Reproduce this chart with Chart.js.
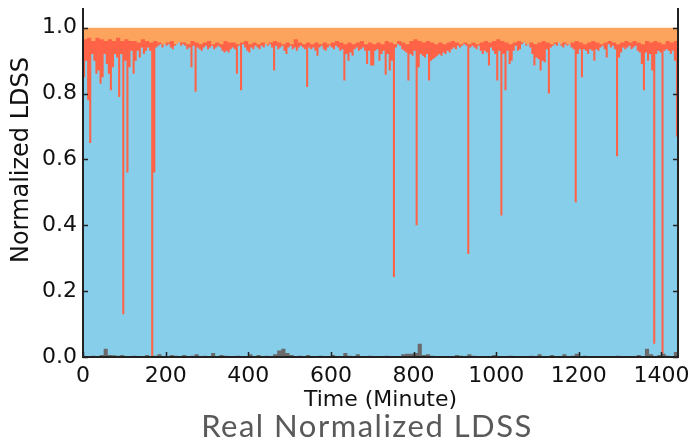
<!DOCTYPE html>
<html>
<head>
<meta charset="utf-8">
<title>Real Normalized LDSS</title>
<script src="https://cdn.jsdelivr.net/npm/chart.js"></script>
<style>
  html, body { margin: 0; padding: 0; background: #ffffff; }
  #wrap { width: 694px; height: 442px; position: relative; }
</style>
</head>
<body>
<div id="wrap"><canvas id="ldss-chart" width="694" height="442"></canvas></div>
<script>
// Real Normalized LDSS over one day (minutes 0..1440)

// tick labels
const xTicks = [0, 200, 400, 600, 800, 1000, 1200, 1400];
const yTicks = [0, 0.2, 0.4, 0.6, 0.8, 1.0];

// blue layer top, one value per 5 minute bin (288 bins)
const blueStep = 5;
const blueTop = [
    0.85, 0.90, 0.78, 0.65, 0.92, 0.90, 0.86, 0.87, 0.83, 0.85, 0.92, 0.89,
    0.86, 0.81, 0.88, 0.92, 0.91, 0.79, 0.92, 0.13, 0.90, 0.56, 0.88, 0.93,
    0.86, 0.90, 0.93, 0.91, 0.94, 0.92, 0.93, 0.94, 0.93, 0.00, 0.56, 0.94,
    0.945, 0.95, 0.94, 0.95, 0.945, 0.95, 0.94, 0.935, 0.945, 0.95, 0.955, 0.945,
    0.95, 0.945, 0.935, 0.94, 0.88, 0.945, 0.806, 0.94, 0.935, 0.93, 0.94, 0.945,
    0.935, 0.94, 0.945, 0.935, 0.94, 0.945, 0.94, 0.93, 0.925, 0.93, 0.925, 0.935,
    0.94, 0.935, 0.86, 0.945, 0.81, 0.95, 0.94, 0.93, 0.925, 0.94, 0.935, 0.945,
    0.94, 0.935, 0.945, 0.94, 0.95, 0.945, 0.95, 0.94, 0.87, 0.945, 0.935, 0.94,
    0.945, 0.93, 0.92, 0.94, 0.945, 0.935, 0.94, 0.93, 0.94, 0.945, 0.94, 0.935,
    0.82, 0.94, 0.935, 0.94, 0.93, 0.915, 0.94, 0.945, 0.935, 0.93, 0.94, 0.945,
    0.94, 0.935, 0.945, 0.94, 0.93, 0.935, 0.84, 0.92, 0.90, 0.925, 0.915, 0.935,
    0.94, 0.93, 0.935, 0.94, 0.93, 0.89, 0.93, 0.885, 0.885, 0.93, 0.935, 0.90,
    0.92, 0.93, 0.857, 0.92, 0.87, 0.90, 0.243, 0.94, 0.95, 0.945, 0.935, 0.93,
    0.925, 0.84, 0.92, 0.915, 0.93, 0.40, 0.88, 0.92, 0.915, 0.91, 0.92, 0.84,
    0.90, 0.905, 0.91, 0.915, 0.92, 0.915, 0.925, 0.92, 0.93, 0.925, 0.935, 0.94,
    0.935, 0.945, 0.94, 0.945, 0.95, 0.945, 0.313, 0.94, 0.945, 0.94, 0.935, 0.945,
    0.93, 0.92, 0.93, 0.925, 0.885, 0.94, 0.93, 0.92, 0.84, 0.93, 0.43, 0.92,
    0.81, 0.93, 0.89, 0.90, 0.93, 0.945, 0.93, 0.935, 0.95, 0.955, 0.945, 0.95,
    0.94, 0.92, 0.885, 0.91, 0.905, 0.87, 0.90, 0.895, 0.935, 0.80, 0.94, 0.945,
    0.95, 0.945, 0.955, 0.945, 0.94, 0.95, 0.945, 0.95, 0.94, 0.935, 0.47, 0.92,
    0.935, 0.85, 0.935, 0.93, 0.92, 0.935, 0.93, 0.90, 0.935, 0.93, 0.94, 0.945,
    0.935, 0.91, 0.95, 0.94, 0.945, 0.935, 0.61, 0.91, 0.925, 0.94, 0.935, 0.94,
    0.945, 0.935, 0.94, 0.945, 0.93, 0.925, 0.89, 0.81, 0.925, 0.90, 0.92, 0.87,
    0.04, 0.92, 0.93, 0.925, 0.00, 0.93, 0.935, 0.93, 0.92, 0.93, 0.90, 0.67
];

// top of the red layer (start of the orange band), one value per 10 minutes
const edgeStep = 10;
const upperEdge = [
    0.965, 0.97, 0.96, 0.97, 0.965, 0.96, 0.965, 0.96, 0.97, 0.96, 0.965, 0.96,
    0.96, 0.955, 0.965, 0.96, 0.955, 0.96, 0.955, 0.95, 0.955, 0.96, 0.95, 0.955,
    0.955, 0.95, 0.96, 0.955, 0.95, 0.955, 0.96, 0.95, 0.955, 0.95, 0.96, 0.955,
    0.955, 0.95, 0.955, 0.96, 0.95, 0.955, 0.95, 0.955, 0.95, 0.955, 0.96, 0.955,
    0.95, 0.955, 0.95, 0.965, 0.955, 0.95, 0.955, 0.95, 0.955, 0.95, 0.955, 0.95,
    0.955, 0.96, 0.955, 0.95, 0.955, 0.95, 0.955, 0.96, 0.95, 0.955, 0.95, 0.955,
    0.95, 0.96, 0.955, 0.95, 0.96, 0.955, 0.95, 0.96, 0.965, 0.96, 0.955, 0.96,
    0.955, 0.95, 0.955, 0.95, 0.955, 0.96, 0.955, 0.95, 0.955, 0.95, 0.955, 0.95,
    0.955, 0.96, 0.955, 0.96, 0.965, 0.96, 0.955, 0.95, 0.955, 0.96, 0.955, 0.95,
    0.955, 0.95, 0.955, 0.96, 0.955, 0.95, 0.955, 0.95, 0.955, 0.95, 0.955, 0.96,
    0.955, 0.95, 0.955, 0.96, 0.955, 0.95, 0.955, 0.96, 0.955, 0.95, 0.955, 0.96,
    0.955, 0.96, 0.955, 0.95, 0.96, 0.955, 0.96, 0.955, 0.95, 0.96, 0.955, 0.96
];

// small gray layer at the bottom, one value per 10 minutes
const grayLevel = [
    0.002, 0.0, 0.004, 0.003, 0.006, 0.025, 0.006, 0.005, 0.004, 0.006, 0.003, 0.002,
    0.004, 0.0, 0.003, 0.006, 0.002, 0.004, 0.008, 0.003, 0.002, 0.006, 0.004, 0.002,
    0.006, 0.002, 0.004, 0.008, 0.0, 0.004, 0.003, 0.012, 0.002, 0.006, 0.004, 0.002,
    0.0, 0.004, 0.003, 0.0, 0.008, 0.003, 0.006, 0.0, 0.004, 0.002, 0.008, 0.02,
    0.025, 0.012, 0.006, 0.003, 0.004, 0.002, 0.006, 0.003, 0.002, 0.004, 0.002, 0.003,
    0.006, 0.002, 0.003, 0.012, 0.004, 0.0, 0.008, 0.003, 0.002, 0.004, 0.0, 0.002,
    0.0, 0.004, 0.002, 0.003, 0.0, 0.008, 0.01, 0.01, 0.012, 0.04, 0.006, 0.008,
    0.004, 0.002, 0.003, 0.0, 0.002, 0.003, 0.006, 0.004, 0.003, 0.008, 0.004, 0.002,
    0.002, 0.003, 0.0, 0.006, 0.002, 0.0, 0.002, 0.004, 0.002, 0.0, 0.003, 0.002,
    0.004, 0.0, 0.008, 0.002, 0.003, 0.006, 0.002, 0.0, 0.008, 0.003, 0.004, 0.01,
    0.002, 0.004, 0.003, 0.0, 0.002, 0.002, 0.0, 0.003, 0.002, 0.004, 0.002, 0.0,
    0.003, 0.002, 0.006, 0.002, 0.025, 0.008, 0.002, 0.006, 0.01, 0.004, 0.002, 0.015
];

// everything up to 1.0 (orange band)
const fullLevel = [1.0, 1.0];
const fullStep = 1440;

// turn a binned series into step points, the last value is held to the end
function toSteps(values, step) {
    const pts = values.map((v, i) => ({ x: i * step, y: v }));
    pts.push({ x: values.length * step, y: values[values.length - 1] });
    return pts;
}

const tickFont = { family: 'DejaVu Sans', size: 22 };

// axis spines, inward tick marks and the three titles
const axisDecor = {
    id: 'axisDecor',
    afterDraw(chart) {
        const ctx = chart.ctx;
        const area = chart.chartArea;
        const xs = chart.scales.x;
        const ys = chart.scales.y;
        ctx.save();

        ctx.strokeStyle = '#222222';
        ctx.lineWidth = 2;
        ctx.beginPath();
        ctx.moveTo(area.left, area.top);
        ctx.lineTo(area.left, area.bottom);
        ctx.lineTo(area.right, area.bottom);
        ctx.lineTo(area.right, area.top);
        ctx.stroke();

        ctx.lineWidth = 1.5;
        ctx.beginPath();
        xTicks.forEach(v => {
            const px = Math.round(xs.getPixelForValue(v)) + 0.5;
            ctx.moveTo(px, area.bottom);
            ctx.lineTo(px, area.bottom - 5);
        });
        yTicks.forEach(v => {
            const py = Math.round(ys.getPixelForValue(v)) + 0.5;
            ctx.moveTo(area.left, py);
            ctx.lineTo(area.left + 5, py);
            ctx.moveTo(area.right, py);
            ctx.lineTo(area.right - 5, py);
        });
        ctx.stroke();

        ctx.fillStyle = '#111111';
        ctx.textAlign = 'center';

        ctx.save();
        ctx.font = '24px "DejaVu Sans"';
        ctx.translate(22, 160);
        ctx.rotate(-Math.PI / 2);
        ctx.textBaseline = 'middle';
        ctx.fillText('Normalized LDSS', 0, 0);
        ctx.restore();

        ctx.font = '22px "DejaVu Sans"';
        ctx.textBaseline = 'alphabetic';
        ctx.fillText('Time (Minute)', (area.left + area.right) / 2, 406);

        // caption box sits over the bottom of the axis title
        ctx.fillStyle = '#ffffff';
        ctx.fillRect(0, 409, chart.width, chart.height - 409);
        ctx.fillStyle = '#595959';
        ctx.font = '31px Lato';
        ctx.letterSpacing = '1.5px';
        ctx.fillText('Real Normalized LDSS', 367, 437);

        ctx.restore();
    }
};

const ctx = document.getElementById('ldss-chart');

new Chart(ctx, {
    type: 'line',
    data: {
        datasets: [
            {
                label: 'Gray',
                data: toSteps(grayLevel, edgeStep),
                backgroundColor: '#6a6a6a',
                order: 0
            },
            {
                label: 'Blue',
                data: toSteps(blueTop, blueStep),
                backgroundColor: '#87ceeb',
                order: 1
            },
            {
                label: 'Red',
                data: toSteps(upperEdge, edgeStep),
                backgroundColor: '#ff6347',
                order: 2
            },
            {
                label: 'Orange',
                data: fullLevel.map((v, i) => ({ x: i * fullStep, y: v })),
                backgroundColor: '#fca45e',
                order: 3
            }
        ]
    },
    options: {
        responsive: false,
        animation: false,
        layout: {
            padding: { top: 8, right: 16, left: 0, bottom: 0 }
        },
        datasets: {
            line: {
                stepped: true,
                fill: 'origin',
                borderWidth: 0,
                borderColor: 'rgba(0,0,0,0)',
                pointRadius: 0,
                tension: 0
            }
        },
        plugins: {
            legend: { display: false },
            tooltip: { enabled: false }
        },
        scales: {
            x: {
                type: 'linear',
                min: 0,
                max: 1440,
                afterFit(scale) {
                    scale.height = 85;
                    scale.paddingLeft = 0;
                    scale.paddingRight = 0;
                },
                afterBuildTicks(scale) {
                    scale.ticks = xTicks.map(v => ({ value: v }));
                },
                grid: { display: false, drawTicks: false },
                border: { display: false },
                ticks: {
                    font: tickFont,
                    color: '#111111',
                    padding: 6,
                    maxRotation: 0,
                    autoSkip: false,
                    callback: v => String(v)
                }
            },
            y: {
                min: 0,
                max: 1.06,
                afterFit(scale) {
                    scale.width = 83;
                    scale.paddingTop = 0;
                    scale.paddingBottom = 0;
                },
                afterBuildTicks(scale) {
                    scale.ticks = yTicks.map(v => ({ value: v }));
                },
                grid: { display: false, drawTicks: false },
                border: { display: false },
                ticks: {
                    font: tickFont,
                    color: '#111111',
                    padding: 6,
                    autoSkip: false,
                    callback: v => Number(v).toFixed(1)
                }
            }
        }
    },
    plugins: [axisDecor]
});
</script>
</body>
</html>
